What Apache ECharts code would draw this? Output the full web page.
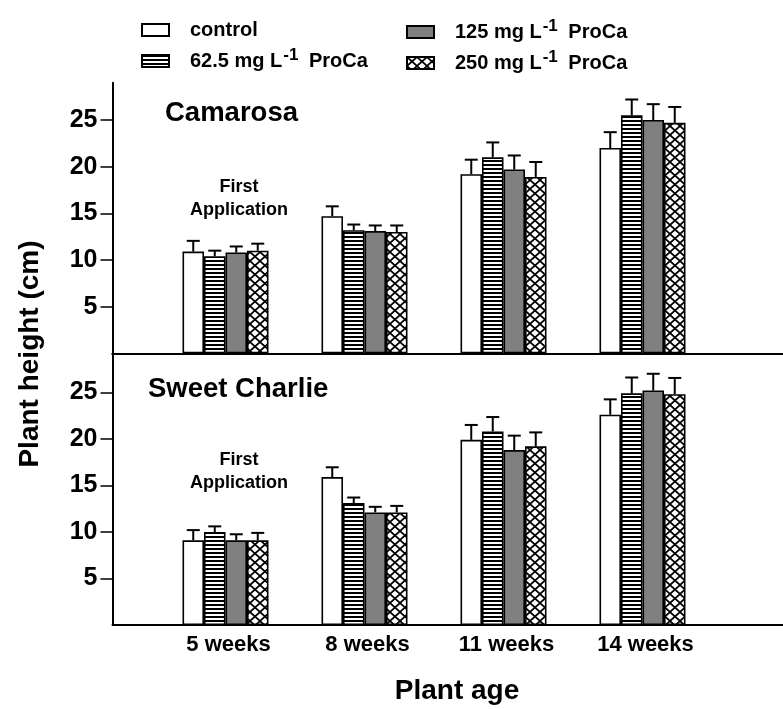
<!DOCTYPE html>
<html>
<head>
<meta charset="utf-8">
<script src="https://cdn.jsdelivr.net/npm/echarts@6/dist/echarts.min.js"></script>
<style>
  html, body { margin: 0; padding: 0; background: #fff; }
  #chart { width: 783px; height: 709px; }
</style>
</head>
<body>
<div id="chart"></div>
<script>
// categories and treatments
var weeks = ['5 weeks', '8 weeks', '11 weeks', '14 weeks'];
var treatments = ['control', '62.5 mg L-1 ProCa', '125 mg L-1 ProCa', '250 mg L-1 ProCa'];
var yTicks = [5, 10, 15, 20, 25];

// Camarosa means / SE
var camControl = [10.9, 14.7, 19.2, 22.0];
var cam62 = [10.4, 13.2, 21.0, 25.5];
var cam125 = [10.8, 13.1, 19.7, 25.0];
var cam250 = [11.0, 13.0, 18.9, 24.7];
var camControlErr = [1.15, 1.05, 1.55, 1.7];
var cam62Err = [0.6, 0.6, 1.6, 1.7];
var cam125Err = [0.65, 0.6, 1.5, 1.7];
var cam250Err = [0.75, 0.7, 1.6, 1.7];

// Sweet Charlie means / SE
var scControl = [9.1, 15.9, 19.9, 22.6];
var sc62 = [10.0, 13.1, 20.8, 24.9];
var sc125 = [9.1, 12.1, 18.8, 25.2];
var sc250 = [9.1, 12.1, 19.2, 24.8];
var scControlErr = [1.1, 1.05, 1.6, 1.65];
var sc62Err = [0.6, 0.6, 1.55, 1.7];
var sc125Err = [0.65, 0.6, 1.55, 1.8];
var sc250Err = [0.8, 0.7, 1.5, 1.75];

var FONT = '"Liberation Sans", Arial, sans-serif';
var BAR_W = 21.5;

// fill patterns
function makeStripes() {
  var c = document.createElement('canvas');
  c.width = 4; c.height = 4;
  var ctx = c.getContext('2d');
  ctx.fillStyle = '#fff'; ctx.fillRect(0, 0, 4, 4);
  ctx.fillStyle = '#000'; ctx.fillRect(0, 0, 4, 2);
  return c;
}
function makeGray() {
  var c = document.createElement('canvas');
  c.width = 2; c.height = 2;
  var ctx = c.getContext('2d');
  ctx.fillStyle = '#858585'; ctx.fillRect(0, 0, 2, 2);
  ctx.fillStyle = '#7a7a7a'; ctx.fillRect(0, 0, 1, 1); ctx.fillRect(1, 1, 1, 1);
  return c;
}
function makeCross() {
  var w = 10, h = 9;
  var c = document.createElement('canvas');
  c.width = w; c.height = h;
  var ctx = c.getContext('2d');
  ctx.fillStyle = '#fff'; ctx.fillRect(0, 0, w, h);
  ctx.strokeStyle = '#000'; ctx.lineWidth = 1.7;
  for (var k = -1; k <= 1; k++) {
    ctx.beginPath();
    ctx.moveTo(k * w, 0); ctx.lineTo(k * w + w, h);
    ctx.moveTo(k * w + w, 0); ctx.lineTo(k * w, h);
    ctx.stroke();
  }
  return c;
}
var fills = [
  '#fff',
  { image: makeStripes(), repeat: 'repeat' },
  { image: makeGray(), repeat: 'repeat' },
  { image: makeCross(), repeat: 'repeat' }
];

var panels = [
  { means: [camControl, cam62, cam125, cam250], errs: [camControlErr, cam62Err, cam125Err, cam250Err] },
  { means: [scControl, sc62, sc125, sc250], errs: [scControlErr, sc62Err, sc125Err, sc250Err] }
];

var chart = echarts.init(document.getElementById('chart'));

var series = [];
panels.forEach(function (p, g) {
  treatments.forEach(function (name, i) {
    series.push({
      name: name,
      type: 'bar',
      xAxisIndex: g,
      yAxisIndex: g,
      barWidth: BAR_W,
      barGap: '0%',
      data: p.means[i],
      itemStyle: { color: fills[i], borderColor: '#000', borderWidth: 1.6 },
      emphasis: { disabled: true },
      animation: false
    });
  });
  // error bars (upper only)
  var errData = [];
  treatments.forEach(function (name, i) {
    weeks.forEach(function (w, j) {
      errData.push([j, i, p.means[i][j], p.errs[i][j]]);
    });
  });
  series.push({
    type: 'custom',
    xAxisIndex: g,
    yAxisIndex: g,
    z: 5,
    silent: true,
    animation: false,
    encode: { x: 0, y: 2 },
    data: errData,
    renderItem: function (params, api) {
      var cat = api.value(0), idx = api.value(1), v = api.value(2), e = api.value(3);
      var base = api.coord([cat, v]);
      var top = api.coord([cat, v + e]);
      var x = base[0] + (idx - 1.5) * BAR_W;
      var style = { stroke: '#000', lineWidth: 2 };
      return {
        type: 'group',
        children: [
          { type: 'line', shape: { x1: x, y1: base[1], x2: x, y2: top[1] }, style: style },
          { type: 'line', shape: { x1: x - 6.5, y1: top[1], x2: x + 6.5, y2: top[1] }, style: style }
        ]
      };
    }
  });
});

var axisText = { color: '#000', fontWeight: 'bold', fontFamily: FONT };
var legendBase = {
  orient: 'vertical',
  top: 13,
  itemWidth: 27,
  itemHeight: 12,
  itemGap: 5,
  icon: 'rect',
  selectedMode: false,
  formatter: function (n) { return '{gap|}' + n.replace('L-1', 'L{sup|-1}'); },
  textStyle: {
    color: '#000', fontSize: 20, fontWeight: 'bold', fontFamily: FONT, lineHeight: 24,
    rich: {
      gap: { width: 16 },
      sup: { fontSize: 17, fontWeight: 'bold', fontFamily: FONT, color: '#000', padding: [0, 5, 11, 1] }
    }
  }
};

function textEl(txt, x, y, size, align, extra) {
  var el = {
    type: 'text', x: x, y: y, silent: true,
    style: { text: txt, fill: '#000', font: 'bold ' + size + 'px ' + FONT, align: align || 'left', verticalAlign: 'middle', lineHeight: size + 4 }
  };
  if (extra) Object.assign(el, extra);
  return el;
}
var appStyle = { text: 'First\nApplication', fill: '#000', font: 'bold 18px ' + FONT, align: 'center', verticalAlign: 'middle', lineHeight: 23 };

var option = {
  backgroundColor: '#fff',
  animation: false,
  legend: [
    Object.assign({}, legendBase, { left: 136, data: [treatments[0], treatments[1]] }),
    Object.assign({}, legendBase, { left: 401, data: [treatments[2], treatments[3]] })
  ],
  grid: [
    { left: 156, width: 556, top: 82.7, height: 270.6 },
    { left: 156, width: 556, top: 353.3, height: 271.7 },
    { left: 112.5, right: 0, top: 82.7, height: 270.6 },
    { left: 112.5, right: 0, top: 353.3, height: 271.7 }
  ],
  xAxis: [
    { type: 'category', gridIndex: 0, data: weeks, axisLine: { show: false }, axisTick: { show: false }, axisLabel: { show: false } },
    { type: 'category', gridIndex: 1, data: weeks, axisLine: { show: false }, axisTick: { show: false },
      axisLabel: Object.assign({ fontSize: 22, margin: 9, padding: [0, 0, 0, 6] }, axisText) },
    { type: 'value', gridIndex: 2, position: 'top', min: 0, max: 1, axisLine: { lineStyle: { color: '#000', width: 2 } }, axisTick: { show: false }, axisLabel: { show: false }, splitLine: { show: false } },
    { type: 'value', gridIndex: 2, position: 'bottom', min: 0, max: 1, axisLine: { lineStyle: { color: '#000', width: 2 } }, axisTick: { show: false }, axisLabel: { show: false }, splitLine: { show: false } },
    { type: 'value', gridIndex: 3, position: 'bottom', min: 0, max: 1, axisLine: { lineStyle: { color: '#000', width: 2 } }, axisTick: { show: false }, axisLabel: { show: false }, splitLine: { show: false } }
  ],
  yAxis: [0, 1].map(function (g) {
    return {
      type: 'value', gridIndex: g, min: 0, max: g === 0 ? 29 : 29.2, interval: 5, offset: 43.5,
      axisLine: { show: true, lineStyle: { color: '#000', width: 2 } },
      axisTick: { show: true, length: 12, customValues: yTicks, lineStyle: { color: '#000', width: 1.5 } },
      axisLabel: Object.assign({ fontSize: 25, margin: 15, customValues: yTicks }, axisText),
      splitLine: { show: false }
    };
  }).concat([
    { type: 'value', gridIndex: 2, show: false },
    { type: 'value', gridIndex: 3, show: false }
  ]),
  graphic: [
    textEl('Camarosa', 165, 113, 27.5),
    textEl('Sweet Charlie', 148, 389, 27.5),
    textEl('', 239, 199, 18, 'center', { style: appStyle }),
    textEl('', 239, 472, 18, 'center', { style: appStyle }),
    textEl('Plant age', 457, 691, 28, 'center'),
    textEl('Plant height (cm)', 30, 354, 28, 'center', { rotation: Math.PI / 2 })
  ],
  series: series
};

chart.setOption(option);
</script>
</body>
</html>
